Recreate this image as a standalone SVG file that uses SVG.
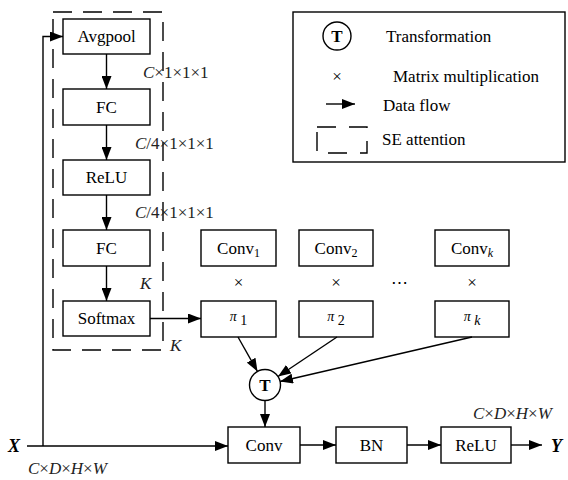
<svg xmlns="http://www.w3.org/2000/svg" width="568" height="480" viewBox="0 0 568 480">
<defs>
<marker id="ah" markerWidth="13" markerHeight="10" refX="13" refY="5" orient="auto" markerUnits="userSpaceOnUse">
<path d="M0,0 L13,5 L0,10 Z" fill="#000"/>
</marker>
<style>
.box{fill:#fff;stroke:#000;stroke-width:1.4}
.ln{fill:none;stroke:#000;stroke-width:1.4}
.ar{fill:none;stroke:#000;stroke-width:1.4;marker-end:url(#ah)}
.dash{fill:none;stroke:#000;stroke-width:1.4;stroke-dasharray:19 11}
.t{font-family:"Liberation Serif","Times New Roman",serif;font-size:17px;fill:#000;text-anchor:middle}
.tl{font-family:"Liberation Serif","Times New Roman",serif;font-size:17px;fill:#000}
.dim{font-family:"Liberation Serif","Times New Roman",serif;font-size:17px;fill:#222}
.it{font-style:italic}
.pi{font-family:"Liberation Serif","Times New Roman",serif;font-size:14px;fill:#000;text-anchor:middle}
.bt{font-family:"Liberation Serif","Times New Roman",serif;font-size:18px;font-weight:bold;font-style:italic;fill:#000}
</style>
</defs>

<g id="se-attention">
<rect x="53" y="12" width="110" height="338" class="dash"/>
</g>

<g id="avgpool"><rect class="box" x="63" y="19" width="87" height="35"/><text class="t" x="106.5" y="42">Avgpool</text></g>
<g id="fc1"><rect class="box" x="63" y="89" width="87" height="36"/><text class="t" x="106.5" y="113">FC</text></g>
<g id="relu1"><rect class="box" x="63" y="160" width="87" height="35"/><text class="t" x="106.5" y="183">ReLU</text></g>
<g id="fc2"><rect class="box" x="63" y="230" width="87" height="36"/><text class="t" x="106.5" y="254">FC</text></g>
<g id="softmax"><rect class="box" x="63" y="301" width="87" height="35"/><text class="t" x="106.5" y="324">Softmax</text></g>

<g id="conv1"><rect class="box" x="201" y="230" width="75" height="36"/><text class="t" x="238.5" y="254">Conv<tspan font-size="12" dy="3">1</tspan></text></g>
<g id="conv2"><rect class="box" x="299" y="230" width="74" height="36"/><text class="t" x="336" y="254">Conv<tspan font-size="12" dy="3">2</tspan></text></g>
<g id="convk"><rect class="box" x="435" y="230" width="74" height="36"/><text class="t" x="472" y="254">Conv<tspan font-size="12" dy="3" font-style="italic">k</tspan></text></g>

<g id="pi1"><rect class="box" x="201" y="301" width="75" height="36"/><text class="pi" x="238.5" y="321"><tspan font-style="italic">π</tspan><tspan dy="4"> 1</tspan></text></g>
<g id="pi2"><rect class="box" x="299" y="301" width="74" height="36"/><text class="pi" x="336" y="321"><tspan font-style="italic">π</tspan><tspan dy="4"> 2</tspan></text></g>
<g id="pik"><rect class="box" x="435" y="301" width="74" height="36"/><text class="pi" x="472" y="321"><tspan font-style="italic">π</tspan><tspan dy="4" font-style="italic"> k</tspan></text></g>

<g id="mult-signs">
<text class="t" x="238.5" y="288">×</text>
<text class="t" x="336" y="288">×</text>
<text class="t" x="399" y="288">⋯</text>
<text class="t" x="472" y="288">×</text>
</g>

<g id="transform"><circle class="box" cx="265" cy="385" r="15.5"/><text class="t" x="265" y="391" font-weight="bold">T</text></g>

<g id="conv"><rect class="box" x="228" y="427" width="72" height="36"/><text class="t" x="264" y="451">Conv</text></g>
<g id="bn"><rect class="box" x="336" y="427" width="71" height="36"/><text class="t" x="371.5" y="451">BN</text></g>
<g id="relu2"><rect class="box" x="441" y="427" width="70" height="36"/><text class="t" x="476" y="451">ReLU</text></g>

<g id="input-x"><text class="bt" x="8" y="452">X</text></g>
<g id="output-y"><text class="bt" x="551" y="452">Y</text></g>

<g id="connectors">
<line class="ar" x1="106.5" y1="54" x2="106.5" y2="89"/>
<line class="ar" x1="106.5" y1="125" x2="106.5" y2="160"/>
<line class="ar" x1="106.5" y1="195" x2="106.5" y2="230"/>
<line class="ar" x1="106.5" y1="266" x2="106.5" y2="301"/>
<line class="ar" x1="150" y1="318.5" x2="201" y2="318.5"/>
<line class="ar" x1="27" y1="446" x2="228" y2="446"/>
<polyline class="ar" points="43,446 43,36.5 63,36.5"/>
<line class="ar" x1="238" y1="337" x2="257.5" y2="371.5"/>
<line class="ar" x1="337" y1="337" x2="278" y2="376.5"/>
<line class="ar" x1="472" y1="337" x2="280" y2="381.5"/>
<line class="ar" x1="265" y1="400.5" x2="265" y2="427"/>
<line class="ar" x1="300" y1="445" x2="336" y2="445"/>
<line class="ar" x1="407" y1="445" x2="441" y2="445"/>
<line class="ar" x1="511" y1="445" x2="542" y2="445"/>
</g>

<g id="dim-labels">
<text class="dim" x="143" y="78"><tspan class="it">C</tspan>×1×1×1</text>
<text class="dim" x="135" y="149"><tspan class="it">C</tspan>/4×1×1×1</text>
<text class="dim" x="135" y="218"><tspan class="it">C</tspan>/4×1×1×1</text>
<text class="dim it" x="140" y="289">K</text>
<text class="dim it" x="170" y="351">K</text>
<text class="dim" x="28" y="474" font-size="18.5"><tspan class="it">C</tspan>×<tspan class="it">D</tspan>×<tspan class="it">H</tspan>×<tspan class="it">W</tspan></text>
<text class="dim" x="473" y="419" font-size="18.5"><tspan class="it">C</tspan>×<tspan class="it">D</tspan>×<tspan class="it">H</tspan>×<tspan class="it">W</tspan></text>
</g>

<g id="legend">
<rect x="293" y="12" width="272" height="150" fill="#fff" stroke="#000" stroke-width="1.4"/>
<circle cx="337" cy="36" r="14" fill="#fff" stroke="#000" stroke-width="1.4"/>
<text class="t" x="337" y="42" font-weight="bold">T</text>
<text class="tl" x="386" y="42">Transformation</text>
<text class="t" x="337" y="82">×</text>
<text class="tl" x="393" y="82">Matrix multiplication</text>
<line class="ar" x1="326" y1="104" x2="355" y2="104"/>
<text class="tl" x="383" y="111">Data flow</text>
<rect x="317" y="127" width="50" height="26" fill="none" stroke="#000" stroke-width="1.4" stroke-dasharray="19 13"/>
<text class="tl" x="382" y="145">SE attention</text>
</g>
</svg>
